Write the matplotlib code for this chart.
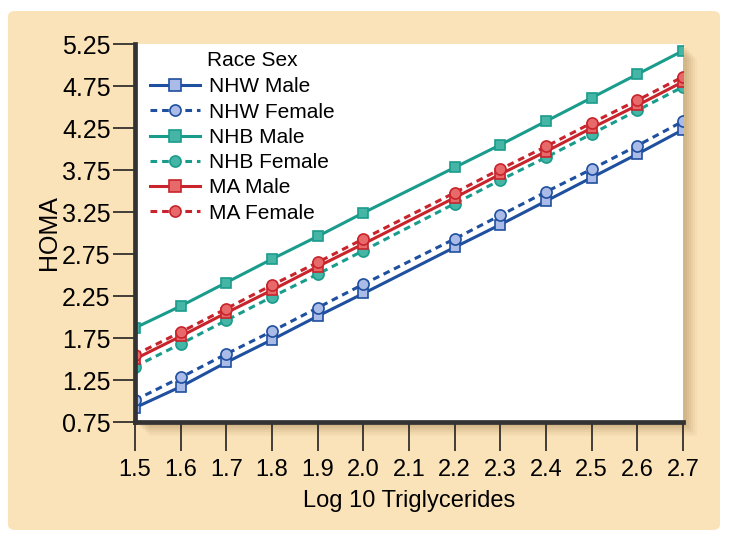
import matplotlib
matplotlib.use("Agg")
import matplotlib.pyplot as plt
from matplotlib.patches import FancyBboxPatch, Rectangle
from matplotlib import font_manager

names = {f.name for f in font_manager.fontManager.ttflist}
fam = ['Liberation Sans Narrow', 'Liberation Sans', 'DejaVu Sans'] if 'Liberation Sans Narrow' in names else ['Liberation Sans', 'DejaVu Sans']
plt.rcParams['font.family'] = fam

x = [1.5, 1.6, 1.7, 1.8, 1.9, 2.0, 2.2, 2.3, 2.4, 2.5, 2.6, 2.7]
nhw_male = [0.92, 1.17, 1.46, 1.73, 2.01, 2.28, 2.83, 3.10, 3.38, 3.66, 3.94, 4.23]
nhw_female = [1.01, 1.28, 1.56, 1.83, 2.11, 2.39, 2.93, 3.21, 3.49, 3.76, 4.04, 4.33]
nhb_male = [1.87, 2.13, 2.41, 2.69, 2.96, 3.24, 3.78, 4.05, 4.33, 4.61, 4.89, 5.17]
nhb_female = [1.41, 1.68, 1.96, 2.24, 2.51, 2.79, 3.35, 3.63, 3.90, 4.18, 4.46, 4.74]
ma_male = [1.50, 1.77, 2.05, 2.32, 2.60, 2.87, 3.42, 3.70, 3.97, 4.25, 4.52, 4.80]
ma_female = [1.55, 1.82, 2.10, 2.38, 2.65, 2.93, 3.48, 3.76, 4.03, 4.31, 4.58, 4.86]
labels = ['NHW Male', 'NHW Female', 'NHB Male', 'NHB Female', 'MA Male', 'MA Female']
legend_title = 'Race Sex'
xticks = [1.5, 1.6, 1.7, 1.8, 1.9, 2.0, 2.1, 2.2, 2.3, 2.4, 2.5, 2.6, 2.7]
xticklabels = ['1.5', '1.6', '1.7', '1.8', '1.9', '2.0', '2.1', '2.2', '2.3', '2.4', '2.5', '2.6', '2.7']
yticks = [0.75, 1.25, 1.75, 2.25, 2.75, 3.25, 3.75, 4.25, 4.75, 5.25]

W, H = 729, 541
fig = plt.figure(figsize=(W / 100, H / 100), dpi=100)
fig.patch.set_facecolor('white')

# beige panel
fig.patches.append(FancyBboxPatch((8 / W, 11 / H), 712 / W, 519 / H,
                                  boxstyle='round,pad=0,rounding_size=0.01',
                                  transform=fig.transFigure, facecolor='#fbe3b9',
                                  edgecolor='none', zorder=0))

L, R, B, T = 135, 683, 422, 44
# shadow
for i, a in enumerate([0.05, 0.05, 0.06, 0.07, 0.08, 0.09]):
    off = 14 - 2 * i
    fig.patches.append(Rectangle(((L + off) / W, (H - B - off) / H), (R - L) / W, (B - T) / H,
                                 transform=fig.transFigure, facecolor='#8a6a30',
                                 alpha=a, edgecolor='none', zorder=0.5))

ax = fig.add_axes([L / W, (H - B) / H, (R - L) / W, (B - T) / H])
ax.set_facecolor('white')
ax.set_zorder(2)

blue, blue_f = '#1f4f9f', '#a9bbe6'
teal, teal_f = '#1a9c8c', '#45b5a5'
red, red_f = '#c8242c', '#e8696a'

series = [
    (nhw_male, blue, blue_f, '-', 's'),
    (nhw_female, blue, blue_f, (0, (2.2, 1.6)), 'o'),
    (nhb_male, teal, teal_f, '-', 's'),
    (nhb_female, teal, teal_f, (0, (2.2, 1.6)), 'o'),
    (ma_male, red, red_f, '-', 's'),
    (ma_female, red, red_f, (0, (2.2, 1.6)), 'o'),
]
for (vals, c, fc, ls, m), lab in zip(series, labels):
    ax.plot(x, vals, color=c, linestyle=ls, linewidth=2.2, marker=m,
            markersize=7.5 if m == 's' else 8, markerfacecolor=fc,
            markeredgecolor=c, markeredgewidth=1.2, label=lab)

ax.set_xlim(1.5, 2.7)
ax.set_ylim(0.75, 5.25)
ax.set_xticks(xticks)
ax.set_xticklabels(xticklabels)
ax.set_yticks(yticks)
ax.set_yticklabels([f'{v:.2f}' for v in yticks])
for s in ['top', 'right']:
    ax.spines[s].set_visible(False)
for s in ['left', 'bottom']:
    ax.spines[s].set_color('#333333')
    ax.spines[s].set_linewidth(3.4)
ax.tick_params(axis='x', direction='out', length=21, width=1.2, color='#222222',
               labelsize=17, pad=6)
ax.tick_params(axis='y', direction='out', length=15.5, width=1.2, color='#222222',
               labelsize=18, pad=2)
ax.set_xlabel('Log 10 Triglycerides', fontsize=17, labelpad=6)
ax.set_ylabel('HOMA', fontsize=18, labelpad=1)

leg = ax.legend(loc='upper left', frameon=False, fontsize=15,
                handlelength=2.4, handletextpad=0.45,
                labelspacing=0.3, borderaxespad=0.3, bbox_to_anchor=(0.0, 0.95))
for h in leg.legend_handles:
    h.set_markersize(8)
ax.text((207 - L) / (R - L), (B - 61) / (B - T), legend_title, transform=ax.transAxes,
        fontsize=15, ha='left', va='center')

fig.savefig('out.png', dpi=100, facecolor=fig.get_facecolor())
